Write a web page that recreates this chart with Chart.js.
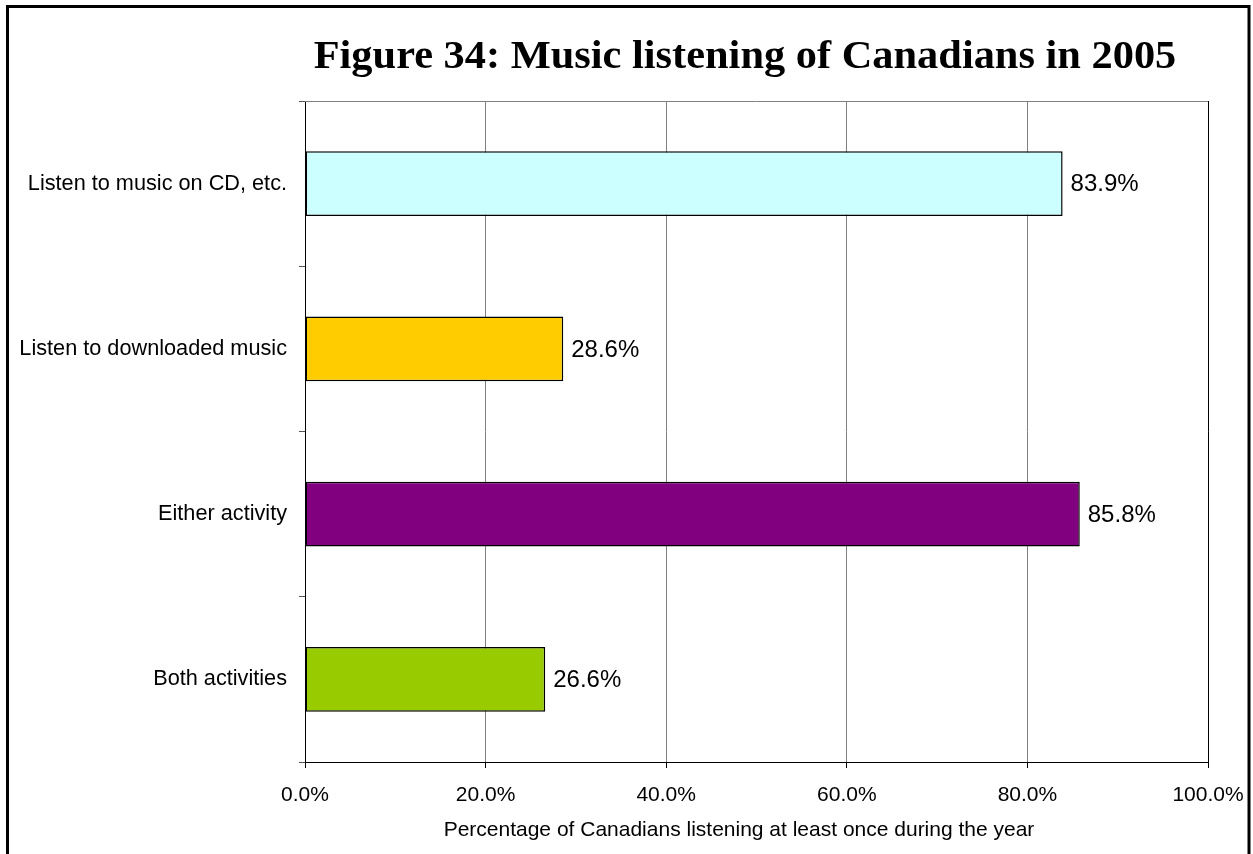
<!DOCTYPE html>
<html>
<head>
<meta charset="utf-8">
<title>Figure 34: Music listening of Canadians in 2005</title>
<script src="https://cdn.jsdelivr.net/npm/chart.js@4/dist/chart.umd.min.js"></script>
<style>
  html, body { margin: 0; padding: 0; background: #fff; }
  #wrap { width: 1253px; height: 854px; position: relative; }
</style>
</head>
<body>
<div id="wrap"><canvas id="musicChart" width="1253" height="854"></canvas></div>
<script>
// chart data
const categories = ['Listen to music on CD, etc.', 'Listen to downloaded music', 'Either activity', 'Both activities'];
const percentages = [83.9, 28.6, 85.8, 26.6];
const barColors = ['#CCFFFF', '#FFCC00', '#800080', '#99CC00'];
const xTicks = [0, 20, 40, 60, 80, 100];
const chartTitle = 'Figure 34: Music listening of Canadians in 2005';
const xTitle = 'Percentage of Canadians listening at least once during the year';

// frame, title, axis title and value labels
const decorations = {
    id: 'decorations',
    afterDatasetsDraw(chart) {
        const c = chart.ctx;
        const area = chart.chartArea;
        c.save();
        // plot area top and right edges
        c.lineWidth = 1;
        c.strokeStyle = '#808080';
        c.beginPath();
        c.moveTo(area.left, area.top + 0.5);
        c.lineTo(area.right, area.top + 0.5);
        c.stroke();
        c.strokeStyle = '#000';
        c.beginPath();
        c.moveTo(area.right + 0.5, area.top);
        c.lineTo(area.right + 0.5, area.bottom);
        c.stroke();

        // value labels at the end of each bar
        c.fillStyle = '#000';
        c.font = '24px "Liberation Sans", Arial, sans-serif';
        c.textAlign = 'left';
        c.textBaseline = 'middle';
        chart.getDatasetMeta(0).data.forEach((bar, i) => {
            c.fillText(percentages[i].toFixed(1) + '%', bar.x + 8, bar.y + 1);
        });

        // chart title (stretched a little to the width of the original serif face)
        c.save();
        c.font = 'bold 40px "Liberation Serif", "Times New Roman", serif';
        c.textAlign = 'center';
        c.textBaseline = 'alphabetic';
        c.translate(745, 68);
        c.scale(1.06, 1);
        c.fillText(chartTitle, 0, 0);
        c.restore();

        // x axis title
        c.font = '21px "Liberation Sans", Arial, sans-serif';
        c.textAlign = 'center';
        c.textBaseline = 'middle';
        c.fillText(xTitle, 739, 830);

        // outer frame
        c.lineWidth = 3;
        c.strokeStyle = '#000';
        c.strokeRect(7.5, 6.5, 1241.5, 1000);
        c.restore();
    }
};

const ctx = document.getElementById('musicChart').getContext('2d');
const musicChart = new Chart(ctx, {
    type: 'bar',
    data: {
        labels: categories,
        datasets: [{
            data: percentages,
            backgroundColor: barColors,
            borderColor: '#000',
            borderWidth: 1.5,
            borderSkipped: false,
            barPercentage: 0.393,
            categoryPercentage: 1
        }]
    },
    options: {
        indexAxis: 'y',
        responsive: false,
        animation: false,
        layout: { padding: { top: 101, right: 45, left: 0, bottom: 0 } },
        plugins: {
            legend: { display: false },
            tooltip: { enabled: false },
            title: { display: false }
        },
        scales: {
            x: {
                min: 0,
                max: 100,
                afterFit(scale) {
                    scale.height = 92;
                    scale.paddingLeft = 0;
                    scale.paddingRight = 0;
                },
                afterBuildTicks(scale) { scale.ticks = xTicks.map(v => ({ value: v })); },
                grid: { color: '#808080', tickColor: '#000', tickLength: 6, lineWidth: 1 },
                border: { color: '#000', width: 1 },
                ticks: {
                    color: '#000',
                    padding: 15,
                    font: { family: '"Liberation Sans", Arial, sans-serif', size: 21 },
                    callback: v => v.toFixed(1) + '%'
                }
            },
            y: {
                afterFit(scale) { scale.width = 305; },
                grid: { drawOnChartArea: false, offset: true, tickLength: 6, tickColor: '#555' },
                border: { color: '#000', width: 1 },
                ticks: {
                    color: '#000',
                    padding: 12,
                    font: { family: '"Liberation Sans", Arial, sans-serif', size: 21.7 }
                }
            }
        }
    },
    plugins: [decorations]
});
</script>
</body>
</html>
